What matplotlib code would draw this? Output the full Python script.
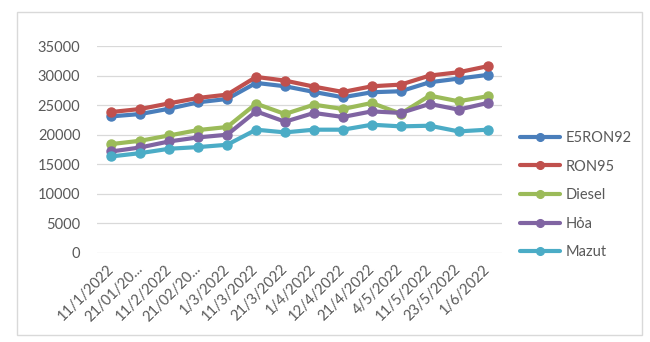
import matplotlib
matplotlib.use("Agg")
import matplotlib.pyplot as plt
from matplotlib.patches import Rectangle
import numpy as np

# price dates (category axis) and fuel prices per series
dates = ["11/1/2022", "21/01/20...", "11/2/2022", "21/02/20...", "1/3/2022",
         "11/3/2022", "21/3/2022", "1/4/2022", "12/4/2022", "21/4/2022",
         "4/5/2022", "11/5/2022", "23/5/2022", "1/6/2022"]
e5ron92 = [23100, 23500, 24400, 25480, 26050, 28760, 28190, 27230, 26330, 27180,
           27350, 28870, 29490, 30110]
ron95 = [23840, 24350, 25310, 26220, 26780, 29770, 29150, 28130, 27230, 28190,
         28470, 30000, 30560, 31580]
diesel = [18420, 18980, 19880, 20790, 21300, 25250, 23500, 25080, 24350, 25370,
          23560, 26610, 25650, 26500]
hoa = [17170, 17850, 18870, 19550, 20000, 23950, 22200, 23680, 23000, 23950,
       23680, 25200, 24240, 25370]
mazut = [16330, 16890, 17630, 17910, 18300, 20850, 20390, 20850, 20850, 21690,
         21410, 21520, 20560, 20850]

names = ["E5RON92", "RON95", "Diesel", "Hỏa", "Mazut"]
colors = ["#4a7ebb", "#c0504d", "#9bbb59", "#8064a2", "#4bacc6"]

plt.rcParams['font.family'] = ['Lato', 'DejaVu Sans']
txt = "#595959"

W, H = 650, 342
fig = plt.figure(figsize=(W / 100, H / 100), dpi=100)

# outer chart border
fig.patches.append(Rectangle((17 / W, 1 - 335 / H), 625 / W, 323 / H,
                             transform=fig.transFigure, fill=False,
                             edgecolor="#d9d9d9", linewidth=1))

ax = fig.add_axes([97 / W, 1 - 253 / H, 405 / W, 207 / H])
x = np.arange(len(dates))
for vals, name, c in zip([e5ron92, ron95, diesel, hoa, mazut], names, colors):
    ax.plot(x, vals, color=c, lw=3, marker="o", ms=6.5, label=name,
            solid_capstyle="round", solid_joinstyle="round")

ax.set_xlim(-0.5, len(dates) - 0.5)
ax.set_ylim(0, 35000)
ax.set_yticks(np.arange(0, 35001, 5000))
ax.grid(axis="y", color="#d9d9d9", lw=0.9)
ax.set_axisbelow(True)
for s in ax.spines.values():
    s.set_visible(False)
ax.tick_params(length=0, colors=txt, labelsize=10.5)
ax.tick_params(axis="y", pad=12)
ax.tick_params(axis="x", pad=10)
ax.set_xticks(x)
ax.set_xticklabels(dates, rotation=45, ha="right", va="center",
                   rotation_mode="anchor")

fig.legend(loc="upper left", bbox_to_anchor=(520 / W, 1 - 131 / H),
           frameon=False, fontsize=10.5, labelcolor=txt, handlelength=2.75,
           handletextpad=0.35, labelspacing=1.0, borderpad=0,
           borderaxespad=0, markerscale=0.85)

fig.savefig("out.png", dpi=100)
